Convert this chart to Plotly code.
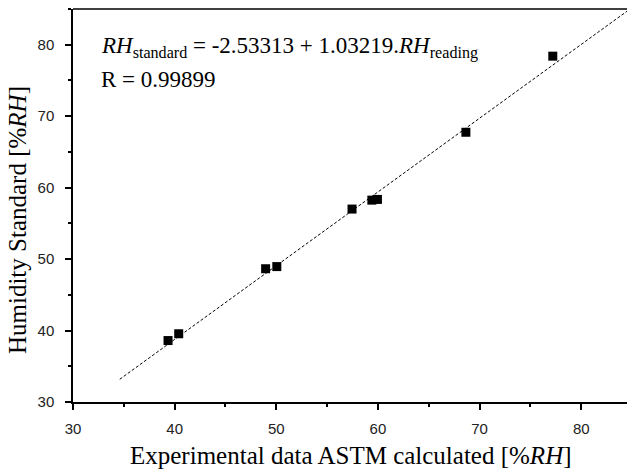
import plotly.graph_objects as go

# Data
x_calc = [39.35, 40.4, 48.95, 50.05, 57.45, 59.4, 59.95, 68.65, 77.2]
y_std = [38.6, 39.55, 48.65, 48.95, 57.0, 58.25, 58.35, 67.75, 78.4]

# Linear fit shown on the chart
intercept = -2.53313
slope = 1.03219
r_value = 0.99899
fit_x = [34.6, 86.0]
fit_y = [intercept + slope * v for v in fit_x]

tick_vals = [30, 40, 50, 60, 70, 80]
x_range = [30, 84.5]
y_range = [30, 85]

serif = "Liberation Serif, Times New Roman, serif"
sans = "Liberation Sans, Arial, sans-serif"

fig = go.Figure()
fig.add_trace(go.Scatter(
    x=fit_x, y=fit_y, mode="lines",
    line=dict(color="black", width=1, dash="3px,2px"),
    showlegend=False, hoverinfo="skip"))
fig.add_trace(go.Scatter(
    x=x_calc, y=y_std, mode="markers",
    marker=dict(symbol="square", size=9, color="black", line=dict(width=0)),
    showlegend=False))

axis_common = dict(
    showgrid=False, zeroline=False, showline=True, linecolor="black", linewidth=1.5,
    ticks="outside", ticklen=6, tickwidth=1.5, tickcolor="black",
    tickvals=tick_vals, tickfont=dict(family=sans, size=15, color="#222"),
    minor=dict(ticks="outside", ticklen=3.5, tickwidth=1.5, tickcolor="black", dtick=5, tick0=30),
)
fig.update_xaxes(range=x_range, ticklabelstandoff=6, **axis_common)
fig.update_yaxes(range=y_range, ticklabelstandoff=8, **axis_common)

fig.add_shape(type="line", xref="paper", yref="paper", x0=0, x1=1, y0=1, y1=1,
              line=dict(color="black", width=1.5))

fig.add_annotation(
    xref="paper", yref="paper", x=0.5027, y=0, yanchor="middle", xanchor="center",
    yshift=-53, showarrow=False,
    text="Experimental data ASTM calculated [%<i>RH</i>]",
    font=dict(family=serif, size=25, color="black"))
fig.add_annotation(
    xref="paper", yref="paper", x=0, y=0.463, xanchor="center", yanchor="middle",
    xshift=-56, textangle=-90, showarrow=False,
    text="Humidity Standard [%<i>RH</i>]",
    font=dict(family=serif, size=25, color="black"))

fig.add_annotation(
    xref="paper", yref="paper", x=0.047, y=1, xanchor="left", yanchor="top",
    yshift=-22, showarrow=False,
    text=f"<i>RH</i><sub>standard</sub> = {intercept} + {slope}.<i>RH</i><sub>reading</sub>",
    font=dict(family=serif, size=23, color="black"))
fig.add_annotation(
    xref="paper", yref="paper", x=0.047, y=1, xanchor="left", yanchor="top",
    yshift=-56, showarrow=False,
    text=f"R = {r_value}",
    font=dict(family=serif, size=23, color="black"))

fig.update_layout(
    width=627, height=470,
    margin=dict(l=73, r=0, t=9, b=68),
    paper_bgcolor="white", plot_bgcolor="white",
)
fig.write_html("out.html", config={"displayModeBar": False},
               post_script="document.body.style.margin='0';document.body.style.overflow='hidden';")
